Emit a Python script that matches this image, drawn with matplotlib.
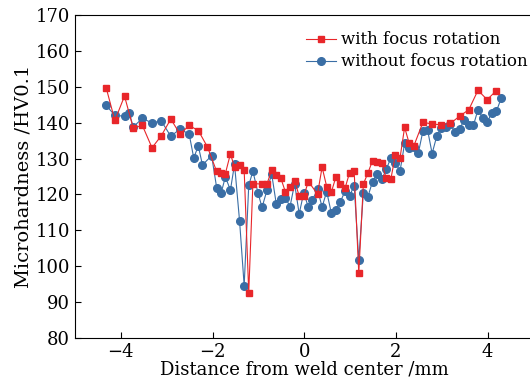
import numpy as np
import matplotlib
matplotlib.use("Agg")
import matplotlib.pyplot as plt

# données
x_red = [-4.32, -4.13, -3.92, -3.73, -3.53, -3.32, -3.12, -2.91, -2.71, -2.51, -2.31, -2.11,
         -1.91, -1.81, -1.72, -1.61, -1.52, -1.41, -1.31, -1.21, -1.12, -0.92, -0.81, -0.71,
         -0.61, -0.51, -0.41, -0.31, -0.21, -0.11, -0.01, 0.09, 0.29, 0.39, 0.49, 0.59, 0.69,
         0.79, 0.89, 0.99, 1.09, 1.19, 1.29, 1.39, 1.49, 1.59, 1.69, 1.79, 1.89, 1.99, 2.09,
         2.19, 2.29, 2.39, 2.59, 2.79, 2.99, 3.19, 3.39, 3.59, 3.79, 3.99, 4.19]
y_red = [149.7, 140.6, 147.4, 138.5, 139.2, 133.0, 136.3, 141.0, 136.8, 139.2, 137.8, 133.2,
         126.4, 126.0, 125.8, 131.3, 127.6, 128.3, 126.8, 92.6, 123.0, 122.9, 123.0, 126.8,
         125.4, 124.5, 120.7, 122.2, 123.8, 119.6, 119.5, 123.6, 120.1, 127.6, 122.2, 120.6, 124.8,
         122.8, 121.7, 126.1, 126.4, 98.0, 122.9, 126.0, 129.4, 129.0, 128.8, 124.5, 124.3, 131.1, 130.2,
         138.7, 134.2, 133.5, 140.1, 139.6, 139.4, 139.8, 141.8, 143.6, 149.0, 146.4, 148.9]

x_blue = [-4.32, -4.13, -3.92, -3.82, -3.73, -3.53, -3.32, -3.12, -2.91, -2.71, -2.51, -2.41,
          -2.31, -2.22, -2.02, -1.91, -1.81, -1.72, -1.61, -1.52, -1.41, -1.31, -1.21, -1.12,
          -1.01, -0.92, -0.81, -0.71, -0.61, -0.51, -0.41, -0.31, -0.21, -0.11, -0.01, 0.09,
          0.18, 0.29, 0.39, 0.49, 0.59, 0.69, 0.79, 0.89, 0.99, 1.09, 1.19, 1.29, 1.39, 1.49,
          1.59, 1.69, 1.79, 1.89, 1.99, 2.09, 2.19, 2.29, 2.39, 2.49, 2.59, 2.69, 2.79, 2.89,
          2.99, 3.09, 3.19, 3.29, 3.39, 3.49, 3.59, 3.69, 3.79, 3.89, 3.99, 4.09, 4.19, 4.30]
y_blue = [144.8, 142.0, 141.8, 142.8, 138.8, 141.2, 139.9, 140.5, 136.2, 138.2, 136.8, 130.2,
          133.5, 128.2, 130.8, 121.9, 120.5, 124.9, 121.2, 128.4, 112.6, 94.6, 122.5, 126.5,
          120.5, 116.4, 121.3, 125.7, 117.4, 118.8, 119.1, 116.6, 123.0, 114.6, 120.5, 116.4,
          118.5, 121.4, 116.5, 120.8, 114.9, 115.6, 118.0, 120.9, 119.7, 122.4, 101.7, 120.5, 119.4, 123.6,
          125.6, 124.2, 127.0, 130.2, 128.8, 126.5, 134.2, 132.9, 133.2, 131.6, 137.7, 138.0, 131.4, 136.2,
          138.4, 138.8, 139.5, 137.3, 138.2, 140.8, 139.2, 139.2, 143.6, 141.4, 140.1, 142.7, 143.1, 146.9]

plt.rcParams['font.family'] = 'DejaVu Serif'

fig = plt.figure(figsize=(5.3, 3.82), dpi=100)
ax = fig.add_axes([0.1415, 0.115, 0.865, 0.846])

ax.plot(x_red, y_red, color='#e8262a', marker='s', markersize=5, linewidth=0.8,
        label='with focus rotation', zorder=3)
ax.plot(x_blue, y_blue, color='#3a6ea5', marker='o', markersize=5.5, linewidth=0.8,
        label='without focus rotation', zorder=2)

ax.set_xlim(-5, 5)
ax.set_ylim(80, 170)
ax.set_xticks([-4, -2, 0, 2, 4])
ax.set_yticks(np.arange(80, 171, 10))
ax.set_xticklabels(['\u22124', '\u22122', '0', '2', '4'])
ax.tick_params(direction='in', labelsize=13, length=4)
ax.set_xlabel('Distance from weld center /mm', fontsize=13, labelpad=0)
ax.set_ylabel('Microhardness /HV0.1', fontsize=14, labelpad=2)

ax.legend(loc='upper right', bbox_to_anchor=(1.008, 0.935), bbox_transform=fig.transFigure,
          frameon=False, fontsize=12, handlelength=1.8, handletextpad=0.3,
          labelspacing=0.3, borderaxespad=0)

fig.savefig('out.png', dpi=100)
